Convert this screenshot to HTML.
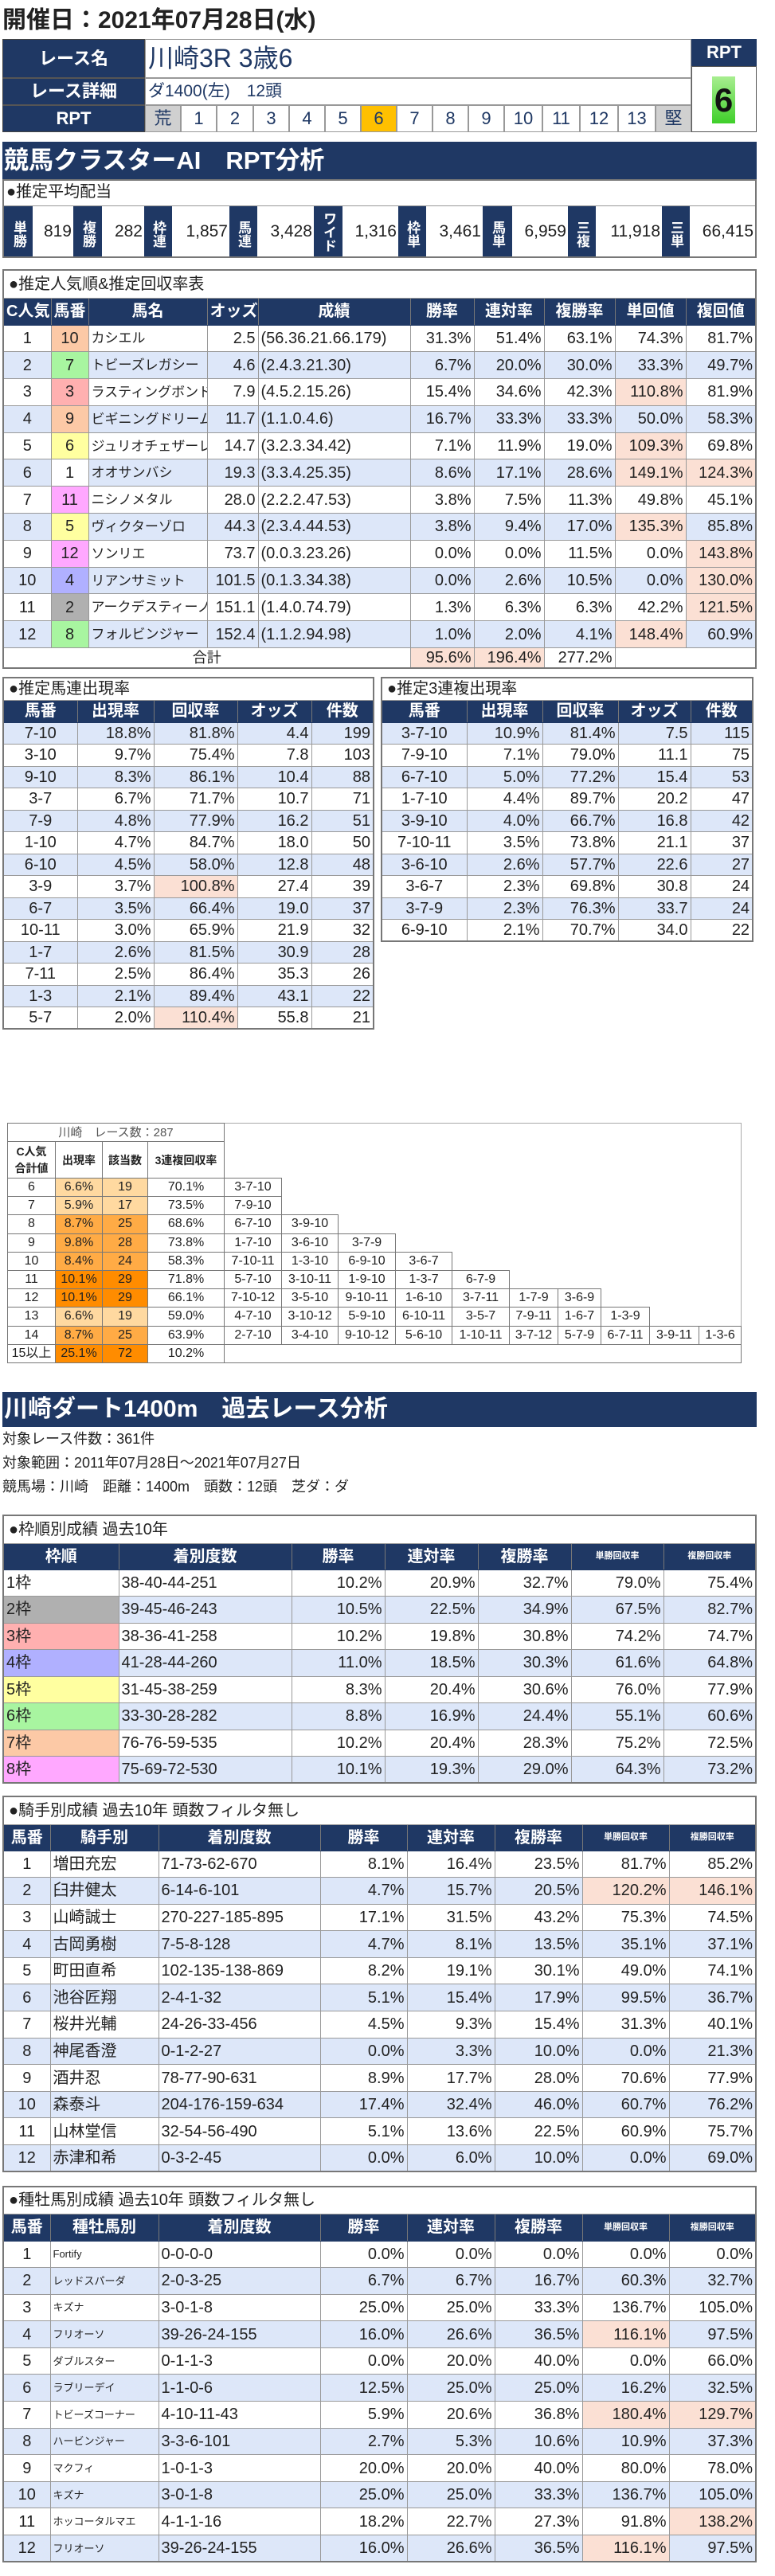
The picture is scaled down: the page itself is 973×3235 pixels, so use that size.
<!DOCTYPE html>
<html><head><meta charset="utf-8">
<style>
*{box-sizing:border-box}
body{margin:0;width:973px;height:3235px;position:relative;background:#fff;font-family:"Liberation Sans","Noto Sans CJK JP",sans-serif;color:#222;overflow:hidden}
.a{position:absolute}
.nv{background:#1f3864;color:#fff}
table.t{position:absolute;border-collapse:collapse;table-layout:fixed;border:2px solid #777;font-size:20px}
table.t td{border:1px solid #999;padding:0 3px;white-space:nowrap;overflow:hidden;line-height:1}
table.t tr.h td{background:#1f3864;color:#fff;font-weight:bold;text-align:center;border-color:#1f3864 #777}
table.t tr.ti td{background:#fff;text-align:left;font-size:20px;padding-left:6px}
tr.bl td{background:#dde7f9}
td.pk{background:#fbe0d4 !important}
.c{text-align:center}.r{text-align:right}.l{text-align:left}
.sm{font-size:11px !important}
.f1{background:#fff !important}.f2{background:#b0b0b0 !important}.f3{background:#ffb0b0 !important}.f4{background:#b0b0ff !important}
.f5{background:#ffffa0 !important}.f6{background:#a8f5a0 !important}.f7{background:#fcc9a6 !important}.f8{background:#ffa8ff !important}
table.cl{position:absolute;border-collapse:collapse;table-layout:fixed;border:1px solid #aaa;font-size:16px}
table.cl td{border:none;padding:0;text-align:center;white-space:nowrap;overflow:hidden;line-height:1}
table.cl td.b{border:1px solid #777}
.o1{background:#ffd9a0 !important}.o2{background:#ffab45 !important}.o3{background:#ff8c00 !important}
.pv td{text-align:right;font-size:21px}
</style></head><body>

<div class="a" style="left:3px;top:6px;font-size:30px;font-weight:bold;line-height:40px">開催日：2021年07月28日(水)</div>

<!-- header block -->
<div class="a nv" style="left:3px;top:49px;width:179px;height:117px;border:1px solid #444"></div>
<div class="a" style="left:3px;top:49px;width:179px;height:49px;line-height:49px;color:#fff;font-weight:bold;font-size:22px;text-align:center">レース名</div>
<div class="a" style="left:3px;top:97px;width:179px;height:2px;background:#555"></div>
<div class="a" style="left:3px;top:98px;width:179px;height:34px;line-height:34px;color:#fff;font-weight:bold;font-size:22px;text-align:center">レース詳細</div>
<div class="a" style="left:3px;top:131px;width:179px;height:2px;background:#555"></div>
<div class="a" style="left:3px;top:132px;width:179px;height:34px;line-height:34px;color:#fff;font-weight:bold;font-size:22px;text-align:center">RPT</div>
<div class="a" style="left:182px;top:49px;width:686px;height:49px;border:1px solid #999;font-size:32px;line-height:47px;color:#1f3864;padding-left:3px">川崎3R 3歳6</div>
<div class="a" style="left:182px;top:98px;width:686px;height:34px;border:1px solid #999;font-size:21px;line-height:32px;color:#1f3864;padding-left:3px">ダ1400(左)　12頭</div>
<div class="a" style="left:182px;top:132px;width:686px;height:34px;display:flex;font-size:22px;line-height:32px;color:#1f3864;text-align:center">
<div style="width:45px;border:1px solid #999;background:#d0d0d0">荒</div><div style="width:45px;border:1px solid #999">1</div><div style="width:46px;border:1px solid #999">2</div><div style="width:45px;border:1px solid #999">3</div><div style="width:45px;border:1px solid #999">4</div><div style="width:45px;border:1px solid #999">5</div><div style="width:45px;border:1px solid #999;background:#ffc000">6</div><div style="width:45px;border:1px solid #999">7</div><div style="width:45px;border:1px solid #999">8</div><div style="width:45px;border:1px solid #999">9</div><div style="width:48px;border:1px solid #999">10</div><div style="width:47px;border:1px solid #999">11</div><div style="width:48px;border:1px solid #999">12</div><div style="width:47px;border:1px solid #999">13</div><div style="width:45px;border:1px solid #999;background:#d0d0d0">堅</div></div>
<div class="a nv" style="left:868px;top:49px;width:82px;height:34px;line-height:34px;text-align:center;font-weight:bold;font-size:22px">RPT</div>
<div class="a" style="left:868px;top:83px;width:82px;height:83px;border:1px solid #555"></div>
<div class="a" style="left:894px;top:96px;width:29px;height:59px;background:linear-gradient(#a8ee90,#3fcf2a);font-size:42px;font-weight:bold;line-height:59px;text-align:center;color:#111">6</div>

<!-- AI banner -->
<div class="a nv" style="left:3px;top:178px;width:947px;height:47px;font-size:31px;font-weight:bold;line-height:47px;padding-left:2px">競馬クラスターAI　RPT分析</div>
<div class="a" style="left:3px;top:225px;width:947px;height:99px;border:2px solid #777"></div>
<div class="a" style="left:8px;top:225px;height:33px;line-height:33px;font-size:20px">●推定平均配当</div>
<div class="a" style="left:5px;top:258px;width:943px;height:1px;background:#999"></div>
<div class="a" style="left:5px;top:259px;height:63px;display:flex;font-size:21px;line-height:63px">
<div class="nv" style="width:36px;writing-mode:vertical-rl;font-size:17px;font-weight:bold;line-height:36px;text-align:center;padding-top:6px">単勝</div><div style="width:51px;text-align:right;padding-right:2px">819</div>
<div class="nv" style="width:36px;writing-mode:vertical-rl;font-size:17px;font-weight:bold;line-height:36px;text-align:center;padding-top:6px">複勝</div><div style="width:53px;text-align:right;padding-right:2px">282</div>
<div class="nv" style="width:35px;writing-mode:vertical-rl;font-size:17px;font-weight:bold;line-height:35px;text-align:center;padding-top:6px">枠連</div><div style="width:72px;text-align:right;padding-right:2px">1,857</div>
<div class="nv" style="width:35px;writing-mode:vertical-rl;font-size:17px;font-weight:bold;line-height:35px;text-align:center;padding-top:6px">馬連</div><div style="width:71px;text-align:right;padding-right:2px">3,428</div>
<div class="nv" style="width:36px;writing-mode:vertical-rl;font-size:17px;font-weight:bold;line-height:36px;text-align:center;padding-top:2px">ワイド</div><div style="width:70px;text-align:right;padding-right:2px">1,316</div>
<div class="nv" style="width:35px;writing-mode:vertical-rl;font-size:17px;font-weight:bold;line-height:35px;text-align:center;padding-top:6px">枠単</div><div style="width:71px;text-align:right;padding-right:2px">3,461</div>
<div class="nv" style="width:37px;writing-mode:vertical-rl;font-size:17px;font-weight:bold;line-height:37px;text-align:center;padding-top:6px">馬単</div><div style="width:70px;text-align:right;padding-right:2px">6,959</div>
<div class="nv" style="width:35px;writing-mode:vertical-rl;font-size:17px;font-weight:bold;line-height:35px;text-align:center;padding-top:6px">三複</div><div style="width:83px;text-align:right;padding-right:2px">11,918</div>
<div class="nv" style="width:35px;writing-mode:vertical-rl;font-size:17px;font-weight:bold;line-height:35px;text-align:center;padding-top:6px">三単</div><div style="width:82px;text-align:right;padding-right:2px">66,415</div>
</div>

<!-- popularity table -->
<table class="t" style="left:3px;top:338px;width:947px">
<colgroup><col style="width:60px"><col style="width:47px"><col style="width:149px"><col style="width:64px"><col style="width:191px"><col style="width:80px"><col style="width:88px"><col style="width:89px"><col style="width:89px"><col style="width:88px"></colgroup>
<tr class="ti" style="height:35px"><td colspan="10">●推定人気順&amp;推定回収率表</td></tr>
<tr class="h" style="height:34px"><td>C人気</td><td>馬番</td><td>馬名</td><td>オッズ</td><td>成績</td><td>勝率</td><td>連対率</td><td>複勝率</td><td>単回値</td><td>複回値</td></tr>
<tr style="height:33.8px"><td class="c">1</td><td class="c f7">10</td><td class="l" style="font-size:17px">カシエル</td><td class="r">2.5</td><td class="l">(56.36.21.66.179)</td><td class="r">31.3%</td><td class="r">51.4%</td><td class="r">63.1%</td><td class="r">74.3%</td><td class="r">81.7%</td></tr>
<tr class="bl" style="height:33.8px"><td class="c">2</td><td class="c f6">7</td><td class="l" style="font-size:17px">トビーズレガシー</td><td class="r">4.6</td><td class="l">(2.4.3.21.30)</td><td class="r">6.7%</td><td class="r">20.0%</td><td class="r">30.0%</td><td class="r">33.3%</td><td class="r">49.7%</td></tr>
<tr style="height:33.8px"><td class="c">3</td><td class="c f3">3</td><td class="l" style="font-size:17px">ラスティングボンド</td><td class="r">7.9</td><td class="l">(4.5.2.15.26)</td><td class="r">15.4%</td><td class="r">34.6%</td><td class="r">42.3%</td><td class="r pk">110.8%</td><td class="r">81.9%</td></tr>
<tr class="bl" style="height:33.8px"><td class="c">4</td><td class="c f7">9</td><td class="l" style="font-size:17px">ビギニングドリーム</td><td class="r">11.7</td><td class="l">(1.1.0.4.6)</td><td class="r">16.7%</td><td class="r">33.3%</td><td class="r">33.3%</td><td class="r">50.0%</td><td class="r">58.3%</td></tr>
<tr style="height:33.8px"><td class="c">5</td><td class="c f5">6</td><td class="l" style="font-size:17px">ジュリオチェザーレ</td><td class="r">14.7</td><td class="l">(3.2.3.34.42)</td><td class="r">7.1%</td><td class="r">11.9%</td><td class="r">19.0%</td><td class="r pk">109.3%</td><td class="r">69.8%</td></tr>
<tr class="bl" style="height:33.8px"><td class="c">6</td><td class="c f1">1</td><td class="l" style="font-size:17px">オオサンバシ</td><td class="r">19.3</td><td class="l">(3.3.4.25.35)</td><td class="r">8.6%</td><td class="r">17.1%</td><td class="r">28.6%</td><td class="r pk">149.1%</td><td class="r pk">124.3%</td></tr>
<tr style="height:33.8px"><td class="c">7</td><td class="c f8">11</td><td class="l" style="font-size:17px">ニシノメタル</td><td class="r">28.0</td><td class="l">(2.2.2.47.53)</td><td class="r">3.8%</td><td class="r">7.5%</td><td class="r">11.3%</td><td class="r">49.8%</td><td class="r">45.1%</td></tr>
<tr class="bl" style="height:33.8px"><td class="c">8</td><td class="c f5">5</td><td class="l" style="font-size:17px">ヴィクターゾロ</td><td class="r">44.3</td><td class="l">(2.3.4.44.53)</td><td class="r">3.8%</td><td class="r">9.4%</td><td class="r">17.0%</td><td class="r pk">135.3%</td><td class="r">85.8%</td></tr>
<tr style="height:33.8px"><td class="c">9</td><td class="c f8">12</td><td class="l" style="font-size:17px">ソンリエ</td><td class="r">73.7</td><td class="l">(0.0.3.23.26)</td><td class="r">0.0%</td><td class="r">0.0%</td><td class="r">11.5%</td><td class="r">0.0%</td><td class="r pk">143.8%</td></tr>
<tr class="bl" style="height:33.8px"><td class="c">10</td><td class="c f4">4</td><td class="l" style="font-size:17px">リアンサミット</td><td class="r">101.5</td><td class="l">(0.1.3.34.38)</td><td class="r">0.0%</td><td class="r">2.6%</td><td class="r">10.5%</td><td class="r">0.0%</td><td class="r pk">130.0%</td></tr>
<tr style="height:33.8px"><td class="c">11</td><td class="c f2">2</td><td class="l" style="font-size:17px">アークデスティーノ</td><td class="r">151.1</td><td class="l">(1.4.0.74.79)</td><td class="r">1.3%</td><td class="r">6.3%</td><td class="r">6.3%</td><td class="r">42.2%</td><td class="r pk">121.5%</td></tr>
<tr class="bl" style="height:33.8px"><td class="c">12</td><td class="c f6">8</td><td class="l" style="font-size:17px">フォルビンジャー</td><td class="r">152.4</td><td class="l">(1.1.2.94.98)</td><td class="r">1.0%</td><td class="r">2.0%</td><td class="r">4.1%</td><td class="r pk">148.4%</td><td class="r">60.9%</td></tr>
<tr style="height:25px"><td colspan="5" class="c" style="font-size:18px">合計</td><td class="r pk">95.6%</td><td class="r pk">196.4%</td><td class="r">277.2%</td><td colspan="2"></td></tr>
</table>

<!-- umaren table -->
<table class="t" style="left:3px;top:850px;width:467px">
<colgroup><col style="width:93px"><col style="width:96px"><col style="width:105px"><col style="width:93px"><col style="width:78px"></colgroup>
<tr class="ti" style="height:28px"><td colspan="5">●推定馬連出現率</td></tr>
<tr class="h" style="height:28px"><td>馬番</td><td>出現率</td><td>回収率</td><td>オッズ</td><td>件数</td></tr>
<tr class="bl" style="height:27.5px"><td class="c">7-10</td><td class="r">18.8%</td><td class="r">81.8%</td><td class="r">4.4</td><td class="r">199</td></tr>
<tr style="height:27.5px"><td class="c">3-10</td><td class="r">9.7%</td><td class="r">75.4%</td><td class="r">7.8</td><td class="r">103</td></tr>
<tr class="bl" style="height:27.5px"><td class="c">9-10</td><td class="r">8.3%</td><td class="r">86.1%</td><td class="r">10.4</td><td class="r">88</td></tr>
<tr style="height:27.5px"><td class="c">3-7</td><td class="r">6.7%</td><td class="r">71.7%</td><td class="r">10.7</td><td class="r">71</td></tr>
<tr class="bl" style="height:27.5px"><td class="c">7-9</td><td class="r">4.8%</td><td class="r">77.9%</td><td class="r">16.2</td><td class="r">51</td></tr>
<tr style="height:27.5px"><td class="c">1-10</td><td class="r">4.7%</td><td class="r">84.7%</td><td class="r">18.0</td><td class="r">50</td></tr>
<tr class="bl" style="height:27.5px"><td class="c">6-10</td><td class="r">4.5%</td><td class="r">58.0%</td><td class="r">12.8</td><td class="r">48</td></tr>
<tr style="height:27.5px"><td class="c">3-9</td><td class="r">3.7%</td><td class="r pk">100.8%</td><td class="r">27.4</td><td class="r">39</td></tr>
<tr class="bl" style="height:27.5px"><td class="c">6-7</td><td class="r">3.5%</td><td class="r">66.4%</td><td class="r">19.0</td><td class="r">37</td></tr>
<tr style="height:27.5px"><td class="c">10-11</td><td class="r">3.0%</td><td class="r">65.9%</td><td class="r">21.9</td><td class="r">32</td></tr>
<tr class="bl" style="height:27.5px"><td class="c">1-7</td><td class="r">2.6%</td><td class="r">81.5%</td><td class="r">30.9</td><td class="r">28</td></tr>
<tr style="height:27.5px"><td class="c">7-11</td><td class="r">2.5%</td><td class="r">86.4%</td><td class="r">35.3</td><td class="r">26</td></tr>
<tr class="bl" style="height:27.5px"><td class="c">1-3</td><td class="r">2.1%</td><td class="r">89.4%</td><td class="r">43.1</td><td class="r">22</td></tr>
<tr style="height:27.5px"><td class="c">5-7</td><td class="r">2.0%</td><td class="r pk">110.4%</td><td class="r">55.8</td><td class="r">21</td></tr>
</table>

<!-- sanrenpuku table -->
<table class="t" style="left:478px;top:850px;width:468px">
<colgroup><col style="width:107px"><col style="width:95px"><col style="width:95px"><col style="width:91px"><col style="width:78px"></colgroup>
<tr class="ti" style="height:28px"><td colspan="5">●推定3連複出現率</td></tr>
<tr class="h" style="height:28px"><td>馬番</td><td>出現率</td><td>回収率</td><td>オッズ</td><td>件数</td></tr>
<tr class="bl" style="height:27.5px"><td class="c">3-7-10</td><td class="r">10.9%</td><td class="r">81.4%</td><td class="r">7.5</td><td class="r">115</td></tr>
<tr style="height:27.5px"><td class="c">7-9-10</td><td class="r">7.1%</td><td class="r">79.0%</td><td class="r">11.1</td><td class="r">75</td></tr>
<tr class="bl" style="height:27.5px"><td class="c">6-7-10</td><td class="r">5.0%</td><td class="r">77.2%</td><td class="r">15.4</td><td class="r">53</td></tr>
<tr style="height:27.5px"><td class="c">1-7-10</td><td class="r">4.4%</td><td class="r">89.7%</td><td class="r">20.2</td><td class="r">47</td></tr>
<tr class="bl" style="height:27.5px"><td class="c">3-9-10</td><td class="r">4.0%</td><td class="r">66.7%</td><td class="r">16.8</td><td class="r">42</td></tr>
<tr style="height:27.5px"><td class="c">7-10-11</td><td class="r">3.5%</td><td class="r">73.8%</td><td class="r">21.1</td><td class="r">37</td></tr>
<tr class="bl" style="height:27.5px"><td class="c">3-6-10</td><td class="r">2.6%</td><td class="r">57.7%</td><td class="r">22.6</td><td class="r">27</td></tr>
<tr style="height:27.5px"><td class="c">3-6-7</td><td class="r">2.3%</td><td class="r">69.8%</td><td class="r">30.8</td><td class="r">24</td></tr>
<tr class="bl" style="height:27.5px"><td class="c">3-7-9</td><td class="r">2.3%</td><td class="r">76.3%</td><td class="r">33.7</td><td class="r">24</td></tr>
<tr style="height:27.5px"><td class="c">6-9-10</td><td class="r">2.1%</td><td class="r">70.7%</td><td class="r">34.0</td><td class="r">22</td></tr>
</table>

<!-- cluster table -->
<table class="cl" style="left:9px;top:1410px;width:922px">
<colgroup><col style="width:60px"><col style="width:59px"><col style="width:57px"><col style="width:96px"><col style="width:72px"><col style="width:71px"><col style="width:72px"><col style="width:71px"><col style="width:72px"><col style="width:61px"><col style="width:54px"><col style="width:61px"><col style="width:62px"><col style="width:53px"></colgroup>
<tr style="height:23px"><td colspan="4" class="b" style="color:#555;font-size:15px">川崎　レース数：287</td><td colspan="10"></td></tr>
<tr style="height:46px;font-weight:bold;font-size:14px"><td class="b" style="line-height:1.5">C人気<br>合計値</td><td class="b">出現率</td><td class="b">該当数</td><td class="b">3連複回収率</td><td colspan="10"></td></tr>
<tr style="height:23.2px"><td class="b">6</td><td class="b o1">6.6%</td><td class="b o1">19</td><td class="b">70.1%</td><td class="b">3-7-10</td><td colspan="9"></td></tr>
<tr style="height:23.2px"><td class="b">7</td><td class="b o1">5.9%</td><td class="b o1">17</td><td class="b">73.5%</td><td class="b">7-9-10</td><td colspan="9"></td></tr>
<tr style="height:23.2px"><td class="b">8</td><td class="b o2">8.7%</td><td class="b o2">25</td><td class="b">68.6%</td><td class="b">6-7-10</td><td class="b">3-9-10</td><td colspan="8"></td></tr>
<tr style="height:23.2px"><td class="b">9</td><td class="b o2">9.8%</td><td class="b o2">28</td><td class="b">73.8%</td><td class="b">1-7-10</td><td class="b">3-6-10</td><td class="b">3-7-9</td><td colspan="7"></td></tr>
<tr style="height:23.2px"><td class="b">10</td><td class="b o2">8.4%</td><td class="b o2">24</td><td class="b">58.3%</td><td class="b">7-10-11</td><td class="b">1-3-10</td><td class="b">6-9-10</td><td class="b">3-6-7</td><td colspan="6"></td></tr>
<tr style="height:23.2px"><td class="b">11</td><td class="b o3">10.1%</td><td class="b o3">29</td><td class="b">71.8%</td><td class="b">5-7-10</td><td class="b">3-10-11</td><td class="b">1-9-10</td><td class="b">1-3-7</td><td class="b">6-7-9</td><td colspan="5"></td></tr>
<tr style="height:23.2px"><td class="b">12</td><td class="b o3">10.1%</td><td class="b o3">29</td><td class="b">66.1%</td><td class="b">7-10-12</td><td class="b">3-5-10</td><td class="b">9-10-11</td><td class="b">1-6-10</td><td class="b">3-7-11</td><td class="b">1-7-9</td><td class="b">3-6-9</td><td colspan="3"></td></tr>
<tr style="height:23.2px"><td class="b">13</td><td class="b o1">6.6%</td><td class="b o1">19</td><td class="b">59.0%</td><td class="b">4-7-10</td><td class="b">3-10-12</td><td class="b">5-9-10</td><td class="b">6-10-11</td><td class="b">3-5-7</td><td class="b">7-9-11</td><td class="b">1-6-7</td><td class="b">1-3-9</td><td colspan="2"></td></tr>
<tr style="height:23.2px"><td class="b">14</td><td class="b o2">8.7%</td><td class="b o2">25</td><td class="b">63.9%</td><td class="b">2-7-10</td><td class="b">3-4-10</td><td class="b">9-10-12</td><td class="b">5-6-10</td><td class="b">1-10-11</td><td class="b">3-7-12</td><td class="b">5-7-9</td><td class="b">6-7-11</td><td class="b">3-9-11</td><td class="b">1-3-6</td></tr>
<tr style="height:23.2px"><td class="b">15以上</td><td class="b o3">25.1%</td><td class="b o3">72</td><td class="b">10.2%</td><td colspan="10" class="b"></td></tr>
</table>

<!-- section 2 -->
<div class="a nv" style="left:3px;top:1748px;width:947px;height:44px;font-size:30px;font-weight:bold;line-height:44px;padding-left:2px">川崎ダート1400m　過去レース分析</div>
<div class="a" style="left:3px;top:1795px;font-size:18px;line-height:24px">対象レース件数：361件</div>
<div class="a" style="left:3px;top:1825px;font-size:18px;line-height:24px">対象範囲：2011年07月28日～2021年07月27日</div>
<div class="a" style="left:3px;top:1855px;font-size:18px;line-height:24px">競馬場：川崎　距離：1400m　頭数：12頭　芝ダ：ダ</div>

<table class="t" style="left:3px;top:1902px;width:947px">
<colgroup><col style="width:145px"><col style="width:217px"><col style="width:117px"><col style="width:117px"><col style="width:117px"><col style="width:116px"><col style="width:116px"></colgroup>
<tr class="ti" style="height:35px"><td colspan="7">●枠順別成績 過去10年</td></tr>
<tr class="h" style="height:33px"><td>枠順</td><td>着別度数</td><td>勝率</td><td>連対率</td><td>複勝率</td><td class="sm">単勝回収率</td><td class="sm">複勝回収率</td></tr>
<tr style="height:33.5px"><td class="l f1">1枠</td><td class="l">38-40-44-251</td><td class="r">10.2%</td><td class="r">20.9%</td><td class="r">32.7%</td><td class="r">79.0%</td><td class="r">75.4%</td></tr>
<tr class="bl" style="height:33.5px"><td class="l f2">2枠</td><td class="l">39-45-46-243</td><td class="r">10.5%</td><td class="r">22.5%</td><td class="r">34.9%</td><td class="r">67.5%</td><td class="r">82.7%</td></tr>
<tr style="height:33.5px"><td class="l f3">3枠</td><td class="l">38-36-41-258</td><td class="r">10.2%</td><td class="r">19.8%</td><td class="r">30.8%</td><td class="r">74.2%</td><td class="r">74.7%</td></tr>
<tr class="bl" style="height:33.5px"><td class="l f4">4枠</td><td class="l">41-28-44-260</td><td class="r">11.0%</td><td class="r">18.5%</td><td class="r">30.3%</td><td class="r">61.6%</td><td class="r">64.8%</td></tr>
<tr style="height:33.5px"><td class="l f5">5枠</td><td class="l">31-45-38-259</td><td class="r">8.3%</td><td class="r">20.4%</td><td class="r">30.6%</td><td class="r">76.0%</td><td class="r">77.9%</td></tr>
<tr class="bl" style="height:33.5px"><td class="l f6">6枠</td><td class="l">33-30-28-282</td><td class="r">8.8%</td><td class="r">16.9%</td><td class="r">24.4%</td><td class="r">55.1%</td><td class="r">60.6%</td></tr>
<tr style="height:33.5px"><td class="l f7">7枠</td><td class="l">76-76-59-535</td><td class="r">10.2%</td><td class="r">20.4%</td><td class="r">28.3%</td><td class="r">75.2%</td><td class="r">72.5%</td></tr>
<tr class="bl" style="height:33.5px"><td class="l f8">8枠</td><td class="l">75-69-72-530</td><td class="r">10.1%</td><td class="r">19.3%</td><td class="r">29.0%</td><td class="r">64.3%</td><td class="r">73.2%</td></tr>
</table>

<table class="t" style="left:3px;top:2255px;width:947px">
<colgroup><col style="width:59px"><col style="width:136px"><col style="width:203px"><col style="width:109px"><col style="width:110px"><col style="width:110px"><col style="width:109px"><col style="width:109px"></colgroup>
<tr class="ti" style="height:35px"><td colspan="8">●騎手別成績 過去10年 頭数フィルタ無し</td></tr>
<tr class="h" style="height:33px"><td>馬番</td><td>騎手別</td><td>着別度数</td><td>勝率</td><td>連対率</td><td>複勝率</td><td class="sm">単勝回収率</td><td class="sm">複勝回収率</td></tr>
<tr style="height:33.6px"><td class="c">1</td><td class="l">増田充宏</td><td class="l">71-73-62-670</td><td class="r">8.1%</td><td class="r">16.4%</td><td class="r">23.5%</td><td class="r">81.7%</td><td class="r">85.2%</td></tr>
<tr class="bl" style="height:33.6px"><td class="c">2</td><td class="l">臼井健太</td><td class="l">6-14-6-101</td><td class="r">4.7%</td><td class="r">15.7%</td><td class="r">20.5%</td><td class="r pk">120.2%</td><td class="r pk">146.1%</td></tr>
<tr style="height:33.6px"><td class="c">3</td><td class="l">山崎誠士</td><td class="l">270-227-185-895</td><td class="r">17.1%</td><td class="r">31.5%</td><td class="r">43.2%</td><td class="r">75.3%</td><td class="r">74.5%</td></tr>
<tr class="bl" style="height:33.6px"><td class="c">4</td><td class="l">古岡勇樹</td><td class="l">7-5-8-128</td><td class="r">4.7%</td><td class="r">8.1%</td><td class="r">13.5%</td><td class="r">35.1%</td><td class="r">37.1%</td></tr>
<tr style="height:33.6px"><td class="c">5</td><td class="l">町田直希</td><td class="l">102-135-138-869</td><td class="r">8.2%</td><td class="r">19.1%</td><td class="r">30.1%</td><td class="r">49.0%</td><td class="r">74.1%</td></tr>
<tr class="bl" style="height:33.6px"><td class="c">6</td><td class="l">池谷匠翔</td><td class="l">2-4-1-32</td><td class="r">5.1%</td><td class="r">15.4%</td><td class="r">17.9%</td><td class="r">99.5%</td><td class="r">36.7%</td></tr>
<tr style="height:33.6px"><td class="c">7</td><td class="l">桜井光輔</td><td class="l">24-26-33-456</td><td class="r">4.5%</td><td class="r">9.3%</td><td class="r">15.4%</td><td class="r">31.3%</td><td class="r">40.1%</td></tr>
<tr class="bl" style="height:33.6px"><td class="c">8</td><td class="l">神尾香澄</td><td class="l">0-1-2-27</td><td class="r">0.0%</td><td class="r">3.3%</td><td class="r">10.0%</td><td class="r">0.0%</td><td class="r">21.3%</td></tr>
<tr style="height:33.6px"><td class="c">9</td><td class="l">酒井忍</td><td class="l">78-77-90-631</td><td class="r">8.9%</td><td class="r">17.7%</td><td class="r">28.0%</td><td class="r">70.6%</td><td class="r">77.9%</td></tr>
<tr class="bl" style="height:33.6px"><td class="c">10</td><td class="l">森泰斗</td><td class="l">204-176-159-634</td><td class="r">17.4%</td><td class="r">32.4%</td><td class="r">46.0%</td><td class="r">60.7%</td><td class="r">76.2%</td></tr>
<tr style="height:33.6px"><td class="c">11</td><td class="l">山林堂信</td><td class="l">32-54-56-490</td><td class="r">5.1%</td><td class="r">13.6%</td><td class="r">22.5%</td><td class="r">60.9%</td><td class="r">75.7%</td></tr>
<tr class="bl" style="height:33.6px"><td class="c">12</td><td class="l">赤津和希</td><td class="l">0-3-2-45</td><td class="r">0.0%</td><td class="r">6.0%</td><td class="r">10.0%</td><td class="r">0.0%</td><td class="r">69.0%</td></tr>
</table>

<table class="t" style="left:3px;top:2745px;width:947px">
<colgroup><col style="width:59px"><col style="width:136px"><col style="width:203px"><col style="width:109px"><col style="width:110px"><col style="width:110px"><col style="width:109px"><col style="width:109px"></colgroup>
<tr class="ti" style="height:34px"><td colspan="8">●種牡馬別成績 過去10年 頭数フィルタ無し</td></tr>
<tr class="h" style="height:34px"><td>馬番</td><td>種牡馬別</td><td>着別度数</td><td>勝率</td><td>連対率</td><td>複勝率</td><td class="sm">単勝回収率</td><td class="sm">複勝回収率</td></tr>
<tr style="height:33.6px"><td class="c">1</td><td class="l" style="font-size:13px">Fortify</td><td class="l">0-0-0-0</td><td class="r">0.0%</td><td class="r">0.0%</td><td class="r">0.0%</td><td class="r">0.0%</td><td class="r">0.0%</td></tr>
<tr class="bl" style="height:33.6px"><td class="c">2</td><td class="l" style="font-size:13px">レッドスパーダ</td><td class="l">2-0-3-25</td><td class="r">6.7%</td><td class="r">6.7%</td><td class="r">16.7%</td><td class="r">60.3%</td><td class="r">32.7%</td></tr>
<tr style="height:33.6px"><td class="c">3</td><td class="l" style="font-size:13px">キズナ</td><td class="l">3-0-1-8</td><td class="r">25.0%</td><td class="r">25.0%</td><td class="r">33.3%</td><td class="r">136.7%</td><td class="r">105.0%</td></tr>
<tr class="bl" style="height:33.6px"><td class="c">4</td><td class="l" style="font-size:13px">フリオーソ</td><td class="l">39-26-24-155</td><td class="r">16.0%</td><td class="r">26.6%</td><td class="r">36.5%</td><td class="r pk">116.1%</td><td class="r">97.5%</td></tr>
<tr style="height:33.6px"><td class="c">5</td><td class="l" style="font-size:13px">ダブルスター</td><td class="l">0-1-1-3</td><td class="r">0.0%</td><td class="r">20.0%</td><td class="r">40.0%</td><td class="r">0.0%</td><td class="r">66.0%</td></tr>
<tr class="bl" style="height:33.6px"><td class="c">6</td><td class="l" style="font-size:13px">ラブリーデイ</td><td class="l">1-1-0-6</td><td class="r">12.5%</td><td class="r">25.0%</td><td class="r">25.0%</td><td class="r">16.2%</td><td class="r">32.5%</td></tr>
<tr style="height:33.6px"><td class="c">7</td><td class="l" style="font-size:13px">トビーズコーナー</td><td class="l">4-10-11-43</td><td class="r">5.9%</td><td class="r">20.6%</td><td class="r">36.8%</td><td class="r pk">180.4%</td><td class="r pk">129.7%</td></tr>
<tr class="bl" style="height:33.6px"><td class="c">8</td><td class="l" style="font-size:13px">ハービンジャー</td><td class="l">3-3-6-101</td><td class="r">2.7%</td><td class="r">5.3%</td><td class="r">10.6%</td><td class="r">10.9%</td><td class="r">37.3%</td></tr>
<tr style="height:33.6px"><td class="c">9</td><td class="l" style="font-size:13px">マクフィ</td><td class="l">1-0-1-3</td><td class="r">20.0%</td><td class="r">20.0%</td><td class="r">40.0%</td><td class="r">80.0%</td><td class="r">78.0%</td></tr>
<tr class="bl" style="height:33.6px"><td class="c">10</td><td class="l" style="font-size:13px">キズナ</td><td class="l">3-0-1-8</td><td class="r">25.0%</td><td class="r">25.0%</td><td class="r">33.3%</td><td class="r">136.7%</td><td class="r">105.0%</td></tr>
<tr style="height:33.6px"><td class="c">11</td><td class="l" style="font-size:13px">ホッコータルマエ</td><td class="l">4-1-1-16</td><td class="r">18.2%</td><td class="r">22.7%</td><td class="r">27.3%</td><td class="r">91.8%</td><td class="r pk">138.2%</td></tr>
<tr class="bl" style="height:33.6px"><td class="c">12</td><td class="l" style="font-size:13px">フリオーソ</td><td class="l">39-26-24-155</td><td class="r">16.0%</td><td class="r">26.6%</td><td class="r">36.5%</td><td class="r pk">116.1%</td><td class="r">97.5%</td></tr>
</table>

</body></html>
